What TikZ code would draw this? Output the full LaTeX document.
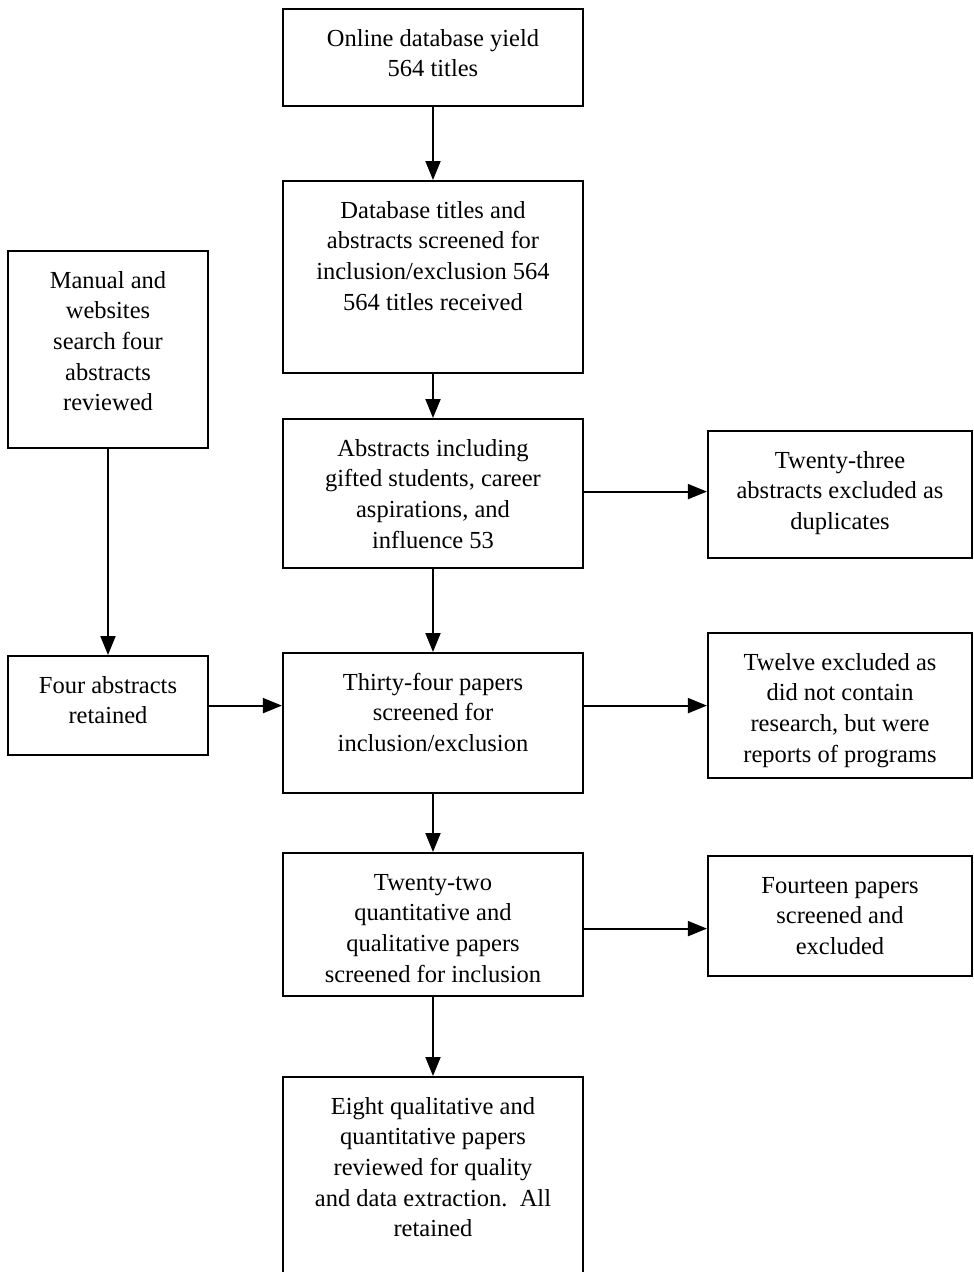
\documentclass[tikz,border=0pt]{standalone}
\usepackage{fontspec}
\setmainfont{Liberation Serif}
\usetikzlibrary{arrows.meta}
\newcommand\bxtext[2]{\parbox[t]{#1}{\centering #2}}
\begin{document}
\begin{tikzpicture}[x=1pt,y=-1pt,
  bx/.style={draw=black,line width=2.2pt,inner sep=0pt,anchor=north,
    font=\fontsize{24.5}{30.7}\selectfont,text height=37pt,text depth=#1-37pt},
  arr/.style={line width=2pt,-{Triangle[length=19pt,width=15pt]}}]
\useasboundingbox (0,0) rectangle (974,1272);
\node[bx=97pt,minimum width=300] (b1) at (433,8) {\bxtext{290pt}{Online database yield\\564 titles}};
\node[bx=192pt,minimum width=300] (b2) at (433,180) {\bxtext{290pt}{Database titles and\\abstracts screened for\\inclusion/exclusion 564\\564 titles received}};
\node[bx=149pt,minimum width=300] (b3) at (433,418) {\bxtext{290pt}{Abstracts including\\gifted students, career\\aspirations, and\\influence 53}};
\node[bx=140pt,minimum width=300] (b4) at (433,652) {\bxtext{290pt}{Thirty-four papers\\screened for\\inclusion/exclusion}};
\node[bx=143pt,minimum width=300] (b5) at (433,852) {\bxtext{290pt}{Twenty-two\\quantitative and\\qualitative papers\\screened for inclusion}};
\node[bx=200pt,minimum width=300] (b6) at (433,1076) {\bxtext{290pt}{Eight qualitative and\\quantitative papers\\reviewed for quality\\and data extraction.\ \ All\\retained}};
\node[bx=197pt,minimum width=200] (l1) at (108,250) {\bxtext{190pt}{Manual and\\websites\\search four\\abstracts\\reviewed}};
\node[bx=99pt,minimum width=200] (l2) at (108,655) {\bxtext{190pt}{Four abstracts\\retained}};
\node[bx=127pt,minimum width=264] (r1) at (840,430) {\bxtext{254pt}{Twenty-three\\abstracts excluded as\\duplicates}};
\node[bx=145pt,minimum width=264] (r2) at (840,632) {\bxtext{254pt}{Twelve excluded as\\did not contain\\research, but were\\reports of programs}};
\node[bx=120pt,minimum width=264] (r3) at (840,855) {\bxtext{254pt}{Fourteen papers\\screened and\\excluded}};
\draw[arr] (b1) -- (b2);
\draw[arr] (b2) -- (b3);
\draw[arr] (b3) -- (b4);
\draw[arr] (b4) -- (b5);
\draw[arr] (b5) -- (b6);
\draw[arr] (l1) -- (l2);
\draw[arr] (l2.east) -- (l2.east -| b4.west);
\draw[arr] ([yshift=2pt]b3.east) -- ([yshift=2pt]b3.east -| r1.west);
\draw[arr] (r2.west -| b4.east) -- (r2.west);
\draw[arr] ([yshift=-4pt]b5.east) -- ([yshift=-4pt]b5.east -| r3.west);
\end{tikzpicture}
\end{document}
